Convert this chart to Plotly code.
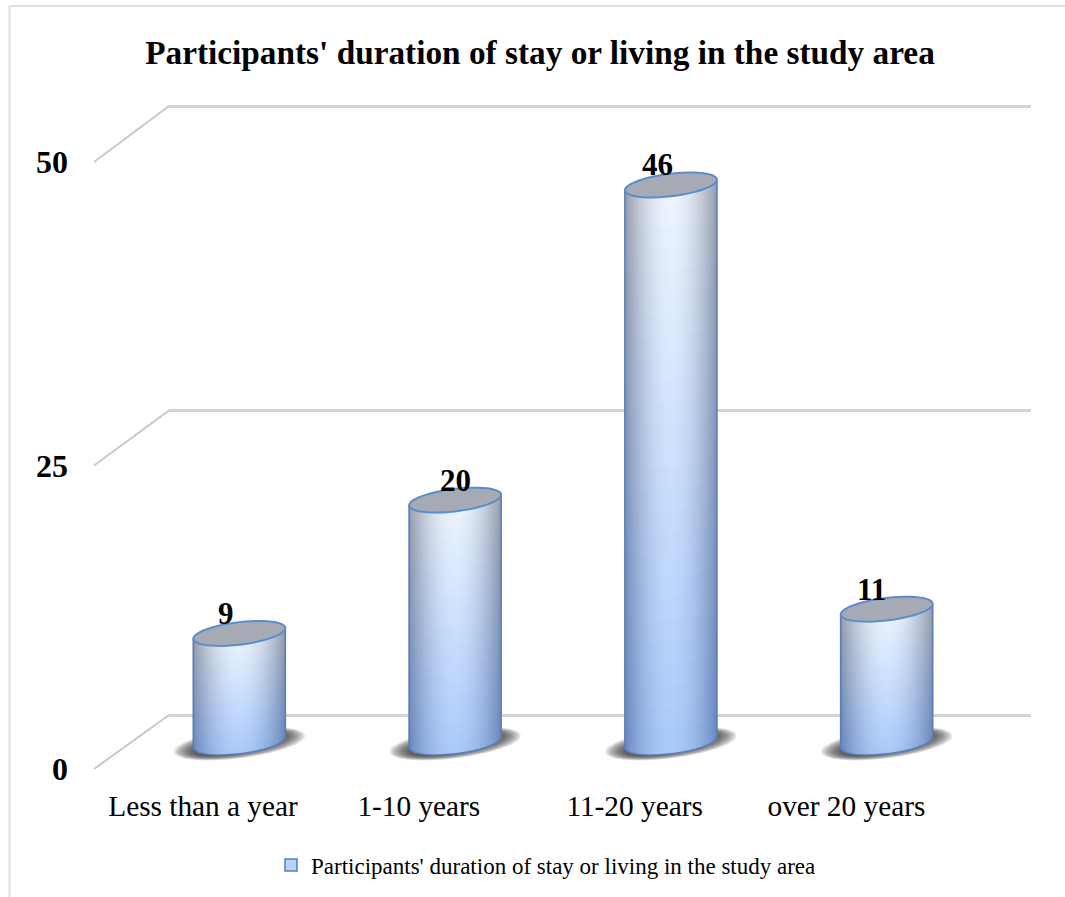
import math
import plotly.graph_objects as go

# ---- data ----
categories = ["Less than a year", "1-10 years", "11-20 years", "over 20 years"]
values = [9, 20, 46, 11]
y_ticks = [0, 25, 50]
series_name = "Participants' duration of stay or living in the study area"
title_text = "Participants' duration of stay or living in the study area"

# ---- page / oblique geometry (pixels) ----
W, H = 1065, 897
FONT = "Liberation Serif"
CAT_STEP = 215.8
FRONT = dict(x0=203, y0=769, sy=12.14)
BARS = dict(x0=239.3, y0=742.5, sy=12.12)
WALL = dict(x_left=169, x_right=1031, y0=715, sy=12.18)
label_dx = [0, 0, 0, -4]              # category label nudges, px
value_dx = [-13, 0, -13, -15]         # value label nudges, px
value_dy = 20

HW = 46 / CAT_STEP                    # cylinder half width, x units
ELL_B = 11.3 / BARS["sy"]             # ellipse half height, y units
ELL_S = 5.3 / BARS["sy"]              # ellipse tilt, y units
N_STRIPS, N_SEGS = 46, 26


def px(x):
    return x / W


def py(y):
    return 1 - y / H


def yrange(o):
    return [(o["y0"] - H) / o["sy"], o["y0"] / o["sy"]]


def ell_path(c, v, hw=HW, b=ELL_B, s=ELL_S):
    n = 48
    pts = []
    for i in range(n):
        th = 2 * math.pi * i / n
        pts.append((c + hw * math.cos(th), v + s * math.cos(th) + b * math.sin(th)))
    return "M" + " L".join(f"{a:.4f},{d:.4f}" for a, d in pts) + " Z"


def body_path(c, v):
    n = 30
    pts = [(c - HW, v - ELL_S)]
    for i in range(n + 1):
        t = -1 + 2 * i / n
        pts.append((c + HW * t, ELL_S * t - ELL_B * math.sqrt(max(0, 1 - t * t))))
    pts.append((c + HW, v + ELL_S))
    return "M" + " L".join(f"{a:.4f},{d:.4f}" for a, d in pts)


def mix(a, b, k):
    return tuple(a[i] + (b[i] - a[i]) * k for i in range(3))


TOP_EDGE, TOP_MID = (150, 155, 170), (238, 246, 255)
BOT_EDGE, BOT_MID = (105, 135, 190), (170, 202, 250)


def strip_color(t, k):
    f = 1 - min(1, abs(t) ** 1.9)
    c = mix(mix(TOP_EDGE, BOT_EDGE, k), mix(TOP_MID, BOT_MID, k), f)
    return "rgb(%d,%d,%d)" % c


# ---- gradient-shaded cylinders, as thin bars on the bar plane ----
bx, by, bb, bc = [], [], [], []
dt = 2 / N_STRIPS
for i, v in enumerate(values):
    for s_i in range(N_STRIPS):
        t = -1 + (s_i + 0.5) * dt
        low = ELL_S * t - ELL_B * math.sqrt(max(0, 1 - t * t))
        high = v + ELL_S * t
        h = (high - low) / N_SEGS
        for g in range(N_SEGS):
            bx.append(i + HW * t)
            bb.append(high - (g + 1) * h)
            by.append(h * 1.12)
            bc.append(strip_color(t, (g + 0.5) / N_SEGS))

fig = go.Figure()
# back wall subplot (gridlines)
fig.add_trace(go.Scatter(x=[0], y=[0], xaxis="x", yaxis="y", mode="markers",
                         marker=dict(opacity=0), showlegend=False, hoverinfo="skip"))
fig.add_trace(go.Bar(x=bx, y=by, base=bb, width=dt * HW * 1.15, xaxis="x2", yaxis="y2",
                     marker=dict(color=bc, line=dict(width=0)),
                     showlegend=False, hoverinfo="skip"))
# front plane carries tick labels and legend entry
fig.add_trace(go.Bar(x=[None], y=[None], xaxis="x3", yaxis="y3", name=series_name,
                     marker=dict(color="#bcd2f3", line=dict(color="#4f81bd", width=1.5))))

shapes = []
# frame
shapes.append(dict(type="line", xref="paper", yref="paper", x0=px(9.5), x1=px(9.5), y0=py(6), y1=py(H),
                   line=dict(color="#e0e0e0", width=2)))
shapes.append(dict(type="line", xref="paper", yref="paper", x0=px(9), x1=1, y0=py(6), y1=py(6),
                   line=dict(color="#e0e0e0", width=2)))
# side-wall diagonals joining the front ticks to the back gridlines
for tv in y_ticks:
    shapes.append(dict(type="line", xref="paper", yref="paper", layer="below",
                       x0=px(94), y0=py(FRONT["y0"] - tv * FRONT["sy"]),
                       x1=px(WALL["x_left"]), y1=py(WALL["y0"] - tv * WALL["sy"]),
                       line=dict(color="#c8c8c8", width=2)))
# shadows
for i in range(len(values)):
    for k in range(12):
        f = 1 - k / 12
        shapes.append(dict(type="path", xref="x2", yref="y2", layer="below",
                           path=ell_path(i, -0.1, hw=HW * (0.85 + 0.58 * f), b=ELL_B * (0.7 + 0.6 * f), s=ELL_S * 1.5),
                           fillcolor="rgba(50,50,50,0.13)", line=dict(width=0)))
# cylinder outline and top cap
for i, v in enumerate(values):
    shapes.append(dict(type="path", xref="x2", yref="y2", path=body_path(i, v),
                       line=dict(color="#5a7fb5", width=1.6)))
    shapes.append(dict(type="path", xref="x2", yref="y2", path=ell_path(i, v),
                       fillcolor="#a6aab5", line=dict(color="#5c8ccb", width=2)))

annotations = [
    dict(x=i, y=v, xref="x2", yref="y2", text=str(v), showarrow=False,
         xshift=value_dx[i], yshift=value_dy,
         font=dict(family=FONT, size=31, color="black", weight="bold"))
    for i, v in enumerate(values)
]

hidden = dict(visible=False, fixedrange=True)
fig.update_layout(
    width=W, height=H, autosize=False,
    margin=dict(l=0, r=0, t=0, b=0, pad=0),
    paper_bgcolor="white", plot_bgcolor="rgba(0,0,0,0)",
    barmode="overlay", bargap=0,
    font=dict(family=FONT, color="black"),
    title=dict(text=title_text, x=540 / W, xanchor="center", xref="paper",
               y=py(52), yanchor="middle", yref="paper",
               font=dict(family=FONT, size=33.3, color="black", weight="bold")),
    # back wall
    xaxis=dict(domain=[px(WALL["x_left"]), px(WALL["x_right"])], range=[0, 1], anchor="y", **hidden),
    yaxis=dict(domain=[0, 1], range=[(WALL["y0"] - H) / WALL["sy"], WALL["y0"] / WALL["sy"]], anchor="x",
               tickvals=y_ticks, showgrid=True, gridcolor="#d4d4d4", gridwidth=3,
               showticklabels=False, zeroline=False, showline=False, ticks="", fixedrange=True),
    # cylinders
    xaxis2=dict(domain=[0, 1], range=[-BARS["x0"] / CAT_STEP, (W - BARS["x0"]) / CAT_STEP], anchor="y2", **hidden),
    yaxis2=dict(domain=[0, 1], range=yrange(BARS), anchor="x2", **hidden),
    # front plane with the labels
    xaxis3=dict(domain=[0, 1], range=[-FRONT["x0"] / CAT_STEP, (W - FRONT["x0"]) / CAT_STEP],
                anchor="free", position=py(786), tickmode="array",
                tickvals=[i + label_dx[i] / CAT_STEP for i in range(len(categories))],
                ticktext=categories, tickfont=dict(family=FONT, size=29.3, color="black"),
                showgrid=False, zeroline=False, showline=False, ticks="", fixedrange=True),
    yaxis3=dict(domain=[0, 1], range=yrange(FRONT), anchor="free", position=px(68),
                tickmode="array", tickvals=y_ticks,
                tickfont=dict(family=FONT, size=32, color="black", weight="bold"),
                showgrid=False, zeroline=False, showline=False, ticks="", fixedrange=True),
    legend=dict(orientation="h", x=546 / W, xanchor="center", y=py(865), yanchor="middle",
                font=dict(family=FONT, size=23, color="black"), bgcolor="rgba(0,0,0,0)"),
    shapes=shapes, annotations=annotations,
)

fig.write_html("out.html", config=dict(displayModeBar=False),
               post_script="document.body.style.margin='0';")
